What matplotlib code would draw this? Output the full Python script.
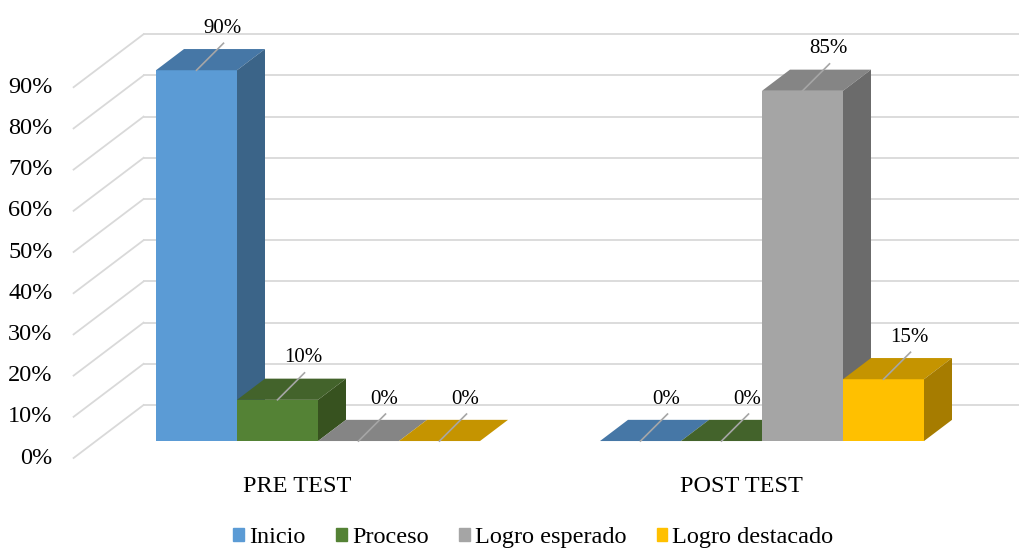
import matplotlib
matplotlib.use("Agg")
import matplotlib.pyplot as plt
from matplotlib.patches import Polygon, Patch

plt.rcParams['font.family'] = ['Liberation Serif', 'DejaVu Serif']

categories = ["PRE TEST", "POST TEST"]
series = ["Inicio", "Proceso", "Logro esperado", "Logro destacado"]
values = [[90, 0], [10, 0], [0, 85], [0, 15]]   # per series: PRE, POST
yticks = [0, 10, 20, 30, 40, 50, 60, 70, 80, 90]

front_cols = ["#5B9BD5", "#548235", "#A5A5A5", "#FFC000"]
top_cols = ["#4677A6", "#43632B", "#858585", "#C59400"]
side_cols = ["#3B6488", "#37521F", "#6B6B6B", "#A67C00"]

# layout in pixels -> data units
W, H = 1020, 552
px_x = 444.0      # pixels per category
px_y = 4.12       # pixels per percent
x_org = 295.6     # pixel x of category 0 on front plane
y_org = 94.0      # pixel y (from bottom) of 0% on front plane
DX, DY = 70 / px_x, 53 / px_y     # full depth of the walls
d0, d1 = 0.32, 0.72               # depth range of the bars
bw = 81 / px_x                    # bar width

fig = plt.figure(figsize=(W / 100, H / 100), dpi=100)
ax = fig.add_axes([0, 0, 1, 1])
ax.set_xlim(-x_org / px_x, (W - x_org) / px_x)
ax.set_ylim(-y_org / px_y, (H - y_org) / px_y)
ax.axis('off')

grid_c = "#D9D9D9"
wall_x = -0.5
for t in yticks:
    ax.plot([wall_x, wall_x + DX], [t, t + DY], color=grid_c, lw=1.3, zorder=1)
    ax.plot([wall_x + DX, ax.get_xlim()[1]], [t + DY, t + DY], color=grid_c, lw=1.3, zorder=1)
    ax.text(wall_x - 21 / px_x, t, f"{t}%", ha='right', va='center', fontsize=17.5)

for c, cat in enumerate(categories):
    ax.text(c + 2 / px_x, -29 / px_y, cat, ha='center', va='center', fontsize=17.5)

z = 3
for c in range(len(categories)):
    for i, s in enumerate(series):
        v = values[i][c]
        x = c + (i - 2) * bw
        ax.bar(x + d0 * DX, v, width=bw, bottom=d0 * DY, align='edge',
               color=front_cols[i], lw=0, zorder=z)
        top = [(x + d0 * DX, v + d0 * DY), (x + bw + d0 * DX, v + d0 * DY),
               (x + bw + d1 * DX, v + d1 * DY), (x + d1 * DX, v + d1 * DY)]
        ax.add_patch(Polygon(top, closed=True, fc=top_cols[i], lw=0, zorder=z + 0.1))
        if v > 0:
            side = [(x + bw + d0 * DX, d0 * DY), (x + bw + d0 * DX, v + d0 * DY),
                    (x + bw + d1 * DX, v + d1 * DY), (x + bw + d1 * DX, d1 * DY)]
            ax.add_patch(Polygon(side, closed=True, fc=side_cols[i], lw=0, zorder=z + 0.2))
        # label with leader line
        xc = x + bw / 2 + d0 * DX
        yc = v + d0 * DY
        xe, ye = xc + 27 / px_x, yc + 27 / px_y
        ax.plot([xc, xe], [yc, ye], color="#A6A6A6", lw=1.2, zorder=50)
        ax.text(xe - 1 / px_x, ye + 15 / px_y, f"{v}%", ha='center', va='center',
                fontsize=15, zorder=51)
        z += 1

handles = [Patch(color=front_cols[i], label=s) for i, s in enumerate(series)]
fig.legend(handles=handles, loc='lower center', bbox_to_anchor=(0.523, -0.032), ncol=4,
           frameon=False, fontsize=17.5, handlelength=0.45, handleheight=0.45,
           handletextpad=0.2, columnspacing=1.25)

fig.savefig("out.png", dpi=100)
